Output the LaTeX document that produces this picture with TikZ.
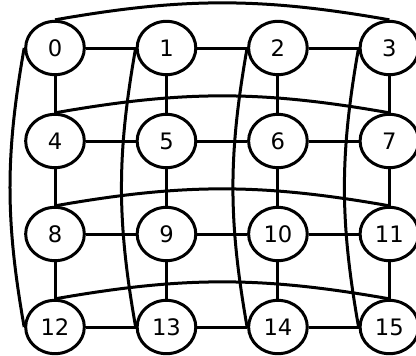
\documentclass[tikz,border=0pt]{standalone}
\usepackage{fontspec}
\setmainfont{DejaVu Sans}
\usepackage{tikz}
\usetikzlibrary{shapes.geometric,positioning}
\tikzset{
  % Vertex
  VX/.style={ellipse,draw,line width=2.25pt,fill=white,
             minimum width=44pt,minimum height=40pt,inner sep=0pt,
             text centered,font=\fontsize{17}{20}\selectfont},
  % Edge
  ed/.style={line width=2.25pt},
  % Wrap-around edges
  wr/.style={ed,bend left=10},
  wc/.style={ed,bend right=10}
}
\begin{document}
\begin{tikzpicture}[x=0.75pt,y=-0.75pt,node distance=69.75pt and 83.6pt,on grid]
  \useasboundingbox (0,0) rectangle (416,355);
  \node[VX] (n0) at (55,48) {0};
  \node[VX,right=of n0] (n1) {1};
  \node[VX,right=of n1] (n2) {2};
  \node[VX,right=of n2] (n3) {3};
  \node[VX,below=of n0] (n4) {4};
  \node[VX,right=of n4] (n5) {5};
  \node[VX,right=of n5] (n6) {6};
  \node[VX,right=of n6] (n7) {7};
  \node[VX,below=of n4] (n8) {8};
  \node[VX,right=of n8] (n9) {9};
  \node[VX,right=of n9] (n10) {10};
  \node[VX,right=of n10] (n11) {11};
  \node[VX,below=of n8] (n12) {12};
  \node[VX,right=of n12] (n13) {13};
  \node[VX,right=of n13] (n14) {14};
  \node[VX,right=of n14] (n15) {15};

  % rows
  \draw[ed](n0)--(n1); \draw[ed](n1)--(n2); \draw[ed](n2)--(n3);
  \draw[ed](n4)--(n5); \draw[ed](n5)--(n6); \draw[ed](n6)--(n7);
  \draw[ed](n8)--(n9); \draw[ed](n9)--(n10); \draw[ed](n10)--(n11);
  \draw[ed](n12)--(n13); \draw[ed](n13)--(n14); \draw[ed](n14)--(n15);
  % columns
  \draw[ed](n0)--(n4); \draw[ed](n4)--(n8); \draw[ed](n8)--(n12);
  \draw[ed](n1)--(n5); \draw[ed](n5)--(n9); \draw[ed](n9)--(n13);
  \draw[ed](n2)--(n6); \draw[ed](n6)--(n10); \draw[ed](n10)--(n14);
  \draw[ed](n3)--(n7); \draw[ed](n7)--(n11); \draw[ed](n11)--(n15);
  % wrap-around
  \draw[wr](n0.north) to (n3.north);
  \draw[wr](n4.north) to (n7.north);
  \draw[wr](n8.north) to (n11.north);
  \draw[wr](n12.north) to (n15.north);
  \draw[wc](n0.west) to (n12.west);
  \draw[wc](n1.west) to (n13.west);
  \draw[wc](n2.west) to (n14.west);
  \draw[wc](n3.west) to (n15.west);
\end{tikzpicture}
\end{document}
